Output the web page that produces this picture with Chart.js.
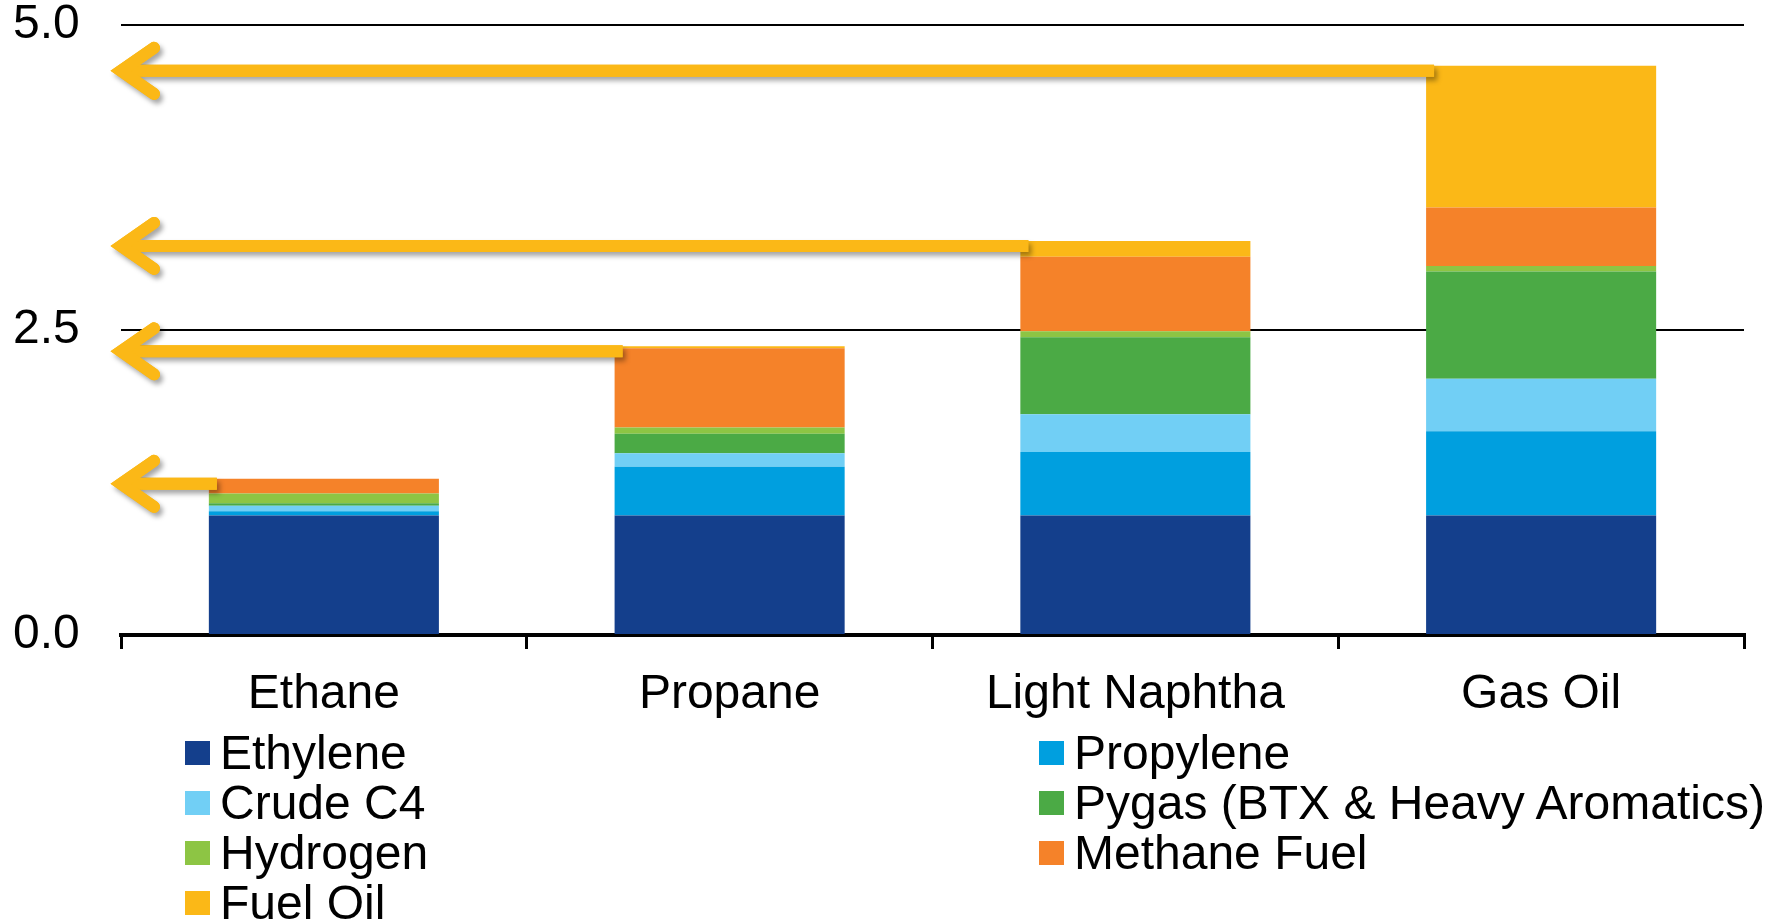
<!DOCTYPE html>
<html>
<head>
<meta charset="utf-8">
<script src="https://cdn.jsdelivr.net/npm/chart.js@4.4.1/dist/chart.umd.min.js"></script>
<style>
  body { margin: 0; background: #fff; font-family: "Liberation Sans", Arial, sans-serif; }
  #wrap { position: relative; width: 1786px; height: 922px; }
  #legend {
    position: absolute; left: 185px; top: 728px;
    display: grid; grid-template-columns: 854px auto; grid-auto-rows: 50px;
  }
  .item { display: flex; align-items: center; font-size: 48px; color: #000; line-height: 50px; white-space: nowrap; }
  .box { width: 25px; height: 24px; margin-right: 10px; flex: none; }
</style>
</head>
<body>
<div id="wrap">
  <canvas id="chart" width="1786" height="922"></canvas>
  <div id="legend"></div>
</div>
<script>
// feedstocks (tonnes of product per tonne of ethylene)
const feeds = ['Ethane', 'Propane', 'Light Naphtha', 'Gas Oil'];

const ethylene  = [0.98, 0.98, 0.98, 0.98];
const propylene = [0.035, 0.40, 0.52, 0.69];
const crudeC4   = [0.045, 0.11, 0.31, 0.43];
const pygas     = [0.02, 0.16, 0.63, 0.88];
const hydrogen  = [0.08, 0.05, 0.05, 0.045];
const methane   = [0.12, 0.65, 0.61, 0.48];
const fuelOil   = [0.0, 0.016, 0.13, 1.16];

const yTicks = [0, 2.5, 5.0];

const gold = '#FBB817';

// yellow arrows from the top of each bar back to the value axis
const arrowPlugin = {
  id: 'arrows',
  afterDatasetsDraw(chart) {
    const ctx = chart.ctx;
    const y = chart.scales.y;
    const meta = chart.getDatasetMeta(0);
    const left = chart.chartArea.left;
    const paths = [];
    feeds.forEach((f, i) => {
      let total = 0;
      chart.data.datasets.forEach(ds => { total += ds.data[i]; });
      const py = y.getPixelForValue(total) + 5;
      const bar = meta.data[i];
      const endX = bar.x - bar.width / 2 + 8;
      paths.push({ py, endX });
    });
    const stroke = () => {
      paths.forEach(p => {
        const vx = left;
        ctx.beginPath();
        ctx.lineCap = 'butt';
        ctx.moveTo(p.endX, p.py);
        ctx.lineTo(vx + 4, p.py);
        ctx.stroke();
        ctx.beginPath();
        ctx.lineCap = 'round';
        ctx.lineJoin = 'miter';
        ctx.moveTo(vx + 33, p.py - 23);
        ctx.lineTo(vx, p.py);
        ctx.lineTo(vx + 33, p.py + 23);
        ctx.stroke();
      });
    };
    ctx.save();
    ctx.strokeStyle = gold;
    ctx.lineWidth = 12;
    ctx.shadowColor = 'rgba(0,0,0,0.35)';
    ctx.shadowBlur = 5;
    ctx.shadowOffsetX = 3;
    ctx.shadowOffsetY = 4;
    stroke();
    ctx.shadowColor = 'transparent';
    stroke();
    ctx.restore();
  }
};

Chart.defaults.font.family = '"Liberation Sans", Arial, sans-serif';
Chart.defaults.color = '#000';

const chart = new Chart(document.getElementById('chart'), {
  type: 'bar',
  data: {
    labels: feeds,
    datasets: [
      { label: 'Ethylene', data: ethylene, backgroundColor: '#143F8C' },
      { label: 'Propylene', data: propylene, backgroundColor: '#009FDF' },
      { label: 'Crude C4', data: crudeC4, backgroundColor: '#71CFF5' },
      { label: 'Pygas (BTX & Heavy Aromatics)', data: pygas, backgroundColor: '#4BAA45' },
      { label: 'Hydrogen', data: hydrogen, backgroundColor: '#8DC544' },
      { label: 'Methane Fuel', data: methane, backgroundColor: '#F58229' },
      { label: 'Fuel Oil', data: fuelOil, backgroundColor: gold }
    ]
  },
  options: {
    responsive: false,
    animation: false,
    layout: { padding: { left: 13, right: 42, top: 25, bottom: 0 } },
    datasets: { bar: { categoryPercentage: 1, barPercentage: 0.567, borderWidth: 0 } },
    plugins: { legend: { display: false }, tooltip: { enabled: false } },
    scales: {
      x: {
        stacked: true,
        afterFit: s => { s.height = 287; },
        grid: { drawOnChartArea: false, color: '#000', lineWidth: 3, tickLength: 14 },
        border: { display: true, color: '#000', width: 4 },
        ticks: { font: { size: 48, lineHeight: 1 }, padding: 22, maxRotation: 0 }
      },
      y: {
        stacked: true,
        min: 0,
        max: 5,
        afterFit: s => { s.width = 108; },
        afterBuildTicks: s => { s.ticks = yTicks.map(v => ({ value: v })); },
        grid: { color: '#000', lineWidth: 2, drawTicks: false },
        border: { display: false },
        ticks: { font: { size: 48, lineHeight: 1 }, padding: 0, crossAlign: 'far', callback: v => v.toFixed(1) }
      }
    }
  },
  plugins: [arrowPlugin]
});

// legend in two columns, row by row
const legend = document.getElementById('legend');
chart.data.datasets.forEach(ds => {
  const item = document.createElement('div');
  item.className = 'item';
  const box = document.createElement('span');
  box.className = 'box';
  box.style.background = ds.backgroundColor;
  item.appendChild(box);
  item.appendChild(document.createTextNode(ds.label));
  legend.appendChild(item);
});
</script>
</body>
</html>
